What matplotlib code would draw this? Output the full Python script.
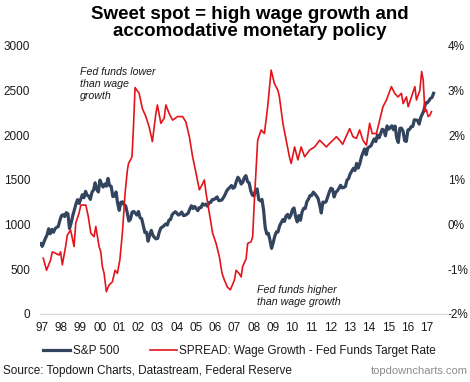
import numpy as np
import matplotlib
matplotlib.use("Agg")
import matplotlib.pyplot as plt
from matplotlib.lines import Line2D

plt.rcParams['font.family'] = ['Liberation Sans', 'DejaVu Sans']

# S&P 500, monthly, Jan 1997 - Jul 2017
sp_start = 1996.85
sp500 = [786, 791, 757, 801, 848, 885, 954, 899, 947, 915, 955, 970,
         980, 1049, 1101, 1112, 1091, 1134, 1121, 957, 1017, 1099, 1164, 1229,
         1280, 1238, 1286, 1335, 1302, 1373, 1329, 1320, 1283, 1363, 1389, 1469,
         1394, 1366, 1499, 1452, 1421, 1455, 1431, 1518, 1437, 1429, 1315, 1320,
         1366, 1240, 1160, 1249, 1256, 1224, 1211, 1134, 1041, 1060, 1139, 1148,
         1130, 1107, 1147, 1077, 1067, 990, 912, 916, 815, 886, 936, 880,
         856, 841, 848, 917, 964, 975, 990, 1008, 996, 1051, 1058, 1112,
         1131, 1145, 1126, 1107, 1121, 1141, 1102, 1104, 1115, 1130, 1174, 1212,
         1181, 1204, 1181, 1157, 1192, 1191, 1234, 1220, 1229, 1207, 1249, 1248,
         1280, 1281, 1295, 1311, 1270, 1270, 1277, 1304, 1336, 1378, 1401, 1418,
         1438, 1407, 1421, 1482, 1531, 1503, 1455, 1474, 1527, 1549, 1481, 1468,
         1379, 1331, 1323, 1386, 1400, 1280, 1267, 1283, 1165, 969, 896, 903,
         826, 735, 798, 873, 919, 919, 987, 1021, 1057, 1036, 1096, 1115,
         1074, 1104, 1169, 1187, 1089, 1031, 1102, 1049, 1141, 1183, 1181, 1258,
         1286, 1327, 1326, 1364, 1345, 1321, 1292, 1219, 1131, 1253, 1247, 1258,
         1312, 1366, 1408, 1398, 1310, 1362, 1379, 1407, 1441, 1412, 1416, 1426,
         1498, 1515, 1569, 1598, 1631, 1606, 1686, 1633, 1682, 1757, 1806, 1848,
         1783, 1859, 1872, 1884, 1924, 1960, 1931, 2003, 1972, 2018, 2068, 2059,
         1995, 2105, 2068, 2086, 2107, 2063, 2104, 1972, 1920, 2079, 2080, 2044,
         1940, 1932, 2060, 2065, 2097, 2099, 2174, 2171, 2168, 2126, 2199, 2239,
         2279, 2364, 2363, 2384, 2412, 2423, 2470]

# spread: wage growth - fed funds target rate (%)
spread_x = [1997.07, 1997.24, 1997.45, 1997.54, 1997.71, 1997.89, 1997.97, 1998.06, 1998.23, 1998.32,
            1998.49, 1998.67, 1998.76, 1998.93, 1999.02, 1999.28, 1999.41, 1999.54, 1999.71, 1999.80,
            1999.97, 2000.06, 2000.14, 2000.23, 2000.35, 2000.49, 2000.66, 2000.80, 2000.92, 2001.05,
            2001.18, 2001.32, 2001.44, 2001.50, 2001.60, 2001.68, 2001.75, 2001.84, 2002.05, 2002.22,
            2002.40, 2002.57, 2002.74, 2002.92, 2003.00, 2003.18, 2003.35, 2003.44, 2003.61, 2003.79,
            2004.05, 2004.31, 2004.48, 2004.66, 2004.83, 2005.01, 2005.18, 2005.27, 2005.44, 2005.53,
            2005.70, 2005.87, 2006.05, 2006.22, 2006.36, 2006.48, 2006.64, 2006.79, 2007.00, 2007.09,
            2007.26, 2007.35, 2007.43, 2007.61, 2007.69, 2007.87, 2007.95, 2008.04, 2008.21, 2008.39,
            2008.56, 2008.73, 2008.91, 2009.08, 2009.26, 2009.34, 2009.52, 2009.69, 2009.86, 2009.95,
            2010.13, 2010.30, 2010.47, 2010.65, 2010.91, 2011.17, 2011.43, 2011.60, 2011.78, 2011.95,
            2012.12, 2012.30, 2012.47, 2012.63, 2012.78, 2012.99, 2013.16, 2013.34, 2013.51, 2013.68,
            2013.86, 2014.03, 2014.16, 2014.38, 2014.55, 2014.72, 2014.90, 2015.16, 2015.33, 2015.50,
            2015.68, 2015.77, 2015.94, 2016.03, 2016.20, 2016.38, 2016.46, 2016.64, 2016.73, 2016.81,
            2016.90, 2016.98, 2017.07, 2017.16, 2017.24]
spread = [-0.75, -1.02, -0.79, -0.61, -0.64, -0.68, -0.61, -0.90, -0.49, -0.23,
          -0.12, -0.49, 0.04, 0.26, 0.44, 0.44, 0.18, -0.19, -0.27, -0.04,
          -0.49, -0.61, -0.94, -1.09, -1.50, -1.35, -1.28, -1.02, -1.09, -0.79,
          -0.19, 0.70, 1.22, 1.37, 1.45, 1.52, 2.12, 3.07, 2.94, 2.60,
          2.42, 2.19, 1.86, 2.49, 2.68, 2.27, 2.38, 2.68, 2.49, 2.34,
          2.42, 2.42, 2.30, 1.97, 1.52, 1.15, 0.78, 0.85, 1.00, 0.70,
          0.26, -0.19, -0.42, -0.72, -1.09, -1.24, -1.40, -1.46, -1.24, -1.02,
          -1.10, -1.17, -0.94, -0.76, -0.42, -0.38, -0.27, 0.55, 1.89, 2.12,
          2.04, 2.64, 3.46, 3.16, 3.01, 2.86, 2.27, 1.89, 1.52, 1.37,
          1.74, 1.45, 1.74, 1.52, 1.67, 1.74, 1.89, 1.82, 1.74, 1.82,
          1.89, 1.97, 1.89, 1.80, 1.95, 2.15, 1.97, 1.93, 2.12, 1.89,
          1.78, 2.27, 2.04, 2.04, 2.34, 2.64, 2.79, 3.09, 2.94, 2.86,
          2.94, 2.71, 2.86, 2.64, 2.86, 3.09, 2.79, 3.01, 3.43, 3.24,
          2.53, 2.57, 2.42, 2.45, 2.53]

years = list(range(1997, 2018))
year_labels = ["%02d" % (y % 100) for y in years]

navy = "#33445F"
red = "#E3141B"
txt = "#1A1A1A"

fig = plt.figure(figsize=(4.7, 3.82), dpi=100)
ax = fig.add_axes([40 / 470, 68 / 382, 408 / 470, 268 / 382])

sp_x = sp_start + np.arange(len(sp500)) / 12.0
ax.plot(sp_x, sp500, color=navy, lw=2.3, solid_joinstyle='round')
ax.set_ylim(0, 3000)
ax.set_yticks([0, 500, 1000, 1500, 2000, 2500, 3000])
ax.set_xlim(1996.9, 2018.1)
ax.set_xticks(years)
ax.set_xticklabels(year_labels)

ax2 = ax.twinx()
ax2.plot(spread_x, spread, color=red, lw=1.2)
ax2.set_ylim(-2, 4)
ax2.set_yticks([-2, -1, 0, 1, 2, 3, 4])
ax2.set_yticklabels(["%d%%" % v for v in [-2, -1, 0, 1, 2, 3, 4]])

for a in (ax, ax2):
    for s in ["top", "left", "right"]:
        a.spines[s].set_visible(False)
    a.spines["bottom"].set_color("#D9D9D9")
    a.tick_params(length=0, labelsize=8.5, colors=txt)
ax.tick_params(axis='y', pad=7)
ax.tick_params(axis='x', pad=6)
ax2.tick_params(axis='y', pad=0)

ax.text(1999.0, 2760, "Fed funds lower\nthan wage\ngrowth", fontsize=7.7,
        style='italic', va='top', ha='left', color=txt, linespacing=1.2)
ax.text(2008.2, 320, "Fed funds higher\nthan wage growth", fontsize=7.7,
        style='italic', va='top', ha='left', color=txt, linespacing=1.2)

fig.text(0.532, 0.985, "Sweet spot = high wage growth and\naccomodative monetary policy",
         ha='center', va='top', fontsize=13.5, fontweight='bold', color='black',
         linespacing=1.0)

handles = [Line2D([], [], color=navy, lw=2.3), Line2D([], [], color=red, lw=1.2)]
fig.legend(handles, ["S&P 500", "SPREAD: Wage Growth - Fed Funds Target Rate"],
           loc='center left', bbox_to_anchor=(43 / 470, 1 - 351 / 382), ncol=2, frameon=False,
           fontsize=8.5, handlelength=2.3, handletextpad=0.2, columnspacing=2.6,
           borderpad=0, borderaxespad=0, labelcolor=txt)

fig.text(0.006, 1 - 371 / 382, "Source: Topdown Charts, Datastream, Federal Reserve",
         fontsize=8.5, color=txt, va='center', ha='left')
fig.text(0.995, 1 - 371 / 382, "topdowncharts.com", fontsize=8, color="#8C8C8C",
         va='center', ha='right')

fig.savefig("out.png", dpi=100)
